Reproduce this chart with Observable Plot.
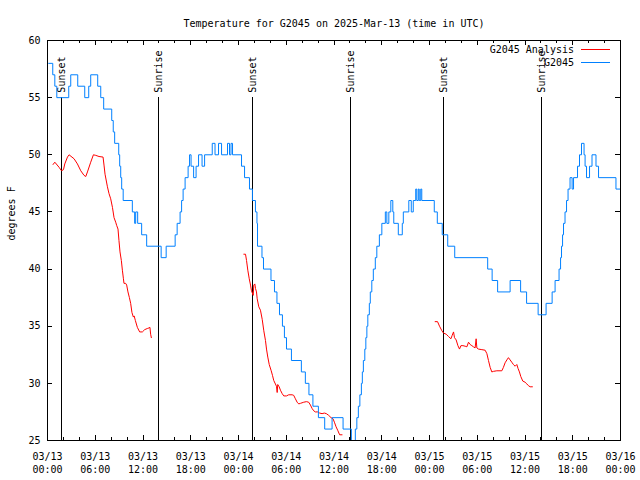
<!DOCTYPE html>
<html>
<head>
<meta charset="utf-8">
<script src="https://cdn.jsdelivr.net/npm/d3@7"></script>
<script src="https://cdn.jsdelivr.net/npm/@observablehq/plot@0.6"></script>
<style>
  html, body { margin: 0; padding: 0; background: #fff; }
  #wrap { position: relative; width: 640px; height: 480px; }
  #legend { position: absolute; left: 0; top: 0; pointer-events: none; }
  text { font-family: "DejaVu Sans Mono", monospace; }
</style>
</head>
<body>
<div id="wrap"></div>
<script>
// ---- data (hours after 2025-03-13 00:00 UTC, degrees F) ----
const titleText = "Temperature for G2045 on 2025-Mar-13 (time in UTC)";
const yLabel = "degrees F";
const seriesNames = ["G2045 Analysis", "G2045"];
const seriesColors = ["#ff0000", "#0080ff"];

const g2045Obs = [
  [0.15,58],[0.66,57],[0.92,56],[1.17,55],[2.67,56],[2.92,57],[3.80,56],[4.68,55],[5.18,56],[5.43,57],
  [6.31,56],[6.69,55],[7.06,54],[8.07,53],[8.26,52],[8.44,51],[8.95,50],[9.07,49],[9.20,48],[9.32,47],
  [9.51,46],[10.66,45],[10.95,44],[11.08,45],[11.33,44],[11.83,43],[12.46,42],[14.28,41],[14.91,42],[16.04,43],
  [16.29,44],[16.66,45],[16.85,46],[17.04,47],[17.29,48],[17.67,49],[17.85,50],[18.04,49],[18.36,48],[18.67,49],
  [18.98,50],[19.42,49],[19.74,50],[20.70,51],[21.05,50],[21.49,51],[21.87,50],[22.62,51],[22.87,50],[23.06,51],
  [23.25,50],[24.38,49],[24.76,48],[25.38,47],[25.75,46],[26.13,45],[26.32,44],[26.39,42],[26.95,41],[27.14,40],
  [28.08,39],[28.52,38],[28.83,37],[29.15,36],[29.52,35],[29.77,34],[30.03,33],[30.65,32],[31.90,31],[32.40,30],
  [32.85,29],[33.35,28],[34.04,27],[34.83,26],[35.76,27],[37.14,26],[38.18,25],[38.68,26],[38.87,27],[39.06,28],
  [39.25,29],[39.44,30],[39.56,31],[39.69,32],[39.87,33],[40.00,34],[40.13,35],[40.25,36],[40.44,37],[40.56,38],
  [40.75,39],[40.94,40],[41.19,41],[41.38,42],[41.70,43],[42.01,44],[42.45,45],[42.64,44],[42.89,45],[43.14,46],
  [43.39,45],[43.51,44],[44.08,43],[44.58,44],[44.71,45],[45.40,46],[45.71,45],[45.96,46],[46.27,47],[46.40,46],
  [46.59,47],[46.71,46],[46.90,47],[47.03,46],[48.60,45],[48.98,44],[49.60,43],[50.29,42],[51.17,41],[55.31,40],
  [55.87,39],[56.56,38],[58.13,39],[59.45,38],[60.20,37],[61.65,36],[62.65,37],[63.41,38],[63.78,39],[64.28,40],
  [64.47,41],[64.59,42],[64.72,43],[64.84,44],[65.03,45],[65.22,46],[65.41,47],[65.66,48],[65.92,47],[66.10,48],
  [66.60,49],[66.85,50],[67.10,51],[67.42,50],[67.55,49],[67.73,48],[68.11,49],[68.42,50],[68.92,49],[69.24,48],
  [71.43,47],[72.0,47]
];

const analysisDay1 = [
  [0.70,49.15],[0.92,49.35],[1.46,48.9],[1.76,48.6],[2.01,48.7],[2.17,49.2],[2.51,49.8],[2.71,50.0],[3.34,49.65],
  [3.76,49.2],[4.18,48.6],[4.59,48.2],[4.81,48.1],[5.02,48.5],[5.43,49.35],[5.77,50.0],[6.06,49.95],[6.47,49.85],
  [6.98,49.8],[7.10,49.1],[7.23,48.3],[7.53,47.2],[7.73,46.6],[7.94,46.15],[8.16,45.4],[8.36,44.5],[8.57,44.1],
  [8.70,43.8],[8.86,43.5],[8.98,42.5],[9.11,41.5],[9.28,40.75],[9.41,39.9],[9.54,39.15],[9.61,38.75],[9.82,38.75],
  [9.95,38.6],[10.11,38.0],[10.29,37.5],[10.45,37.0],[10.61,36.2],[10.79,35.8],[10.89,35.9],[11.04,35.5],
  [11.29,34.9],[11.58,34.5],[11.92,34.5],[12.21,34.7],[12.54,34.8],[12.75,34.85],[12.87,34.9],[12.96,34.3],[13.05,34.0]
];
const analysisDay2 = [
  [24.67,41.3],[24.88,41.3],[25.01,40.75],[25.17,39.9],[25.35,39.15],[25.51,38.6],[25.63,38.1],[25.85,37.7],
  [25.92,38.6],[26.05,38.7],[26.14,38.3],[26.26,38.0],[26.35,37.4],[26.55,36.7],[26.76,36.4],[26.98,35.6],
  [27.18,34.6],[27.39,33.75],[27.52,33.0],[27.68,32.3],[27.86,31.65],[28.11,31.1],[28.27,30.7],[28.43,30.25],
  [28.77,29.75],[28.86,29.2],[28.93,29.9],[29.11,29.7],[29.27,29.4],[29.49,29.1],[29.69,28.9],[30.03,28.9],
  [30.31,29.0],[30.74,29.0],[30.94,28.95],[31.15,28.65],[31.37,28.35],[31.57,28.2],[31.78,28.25],[32.20,28.35],
  [32.53,28.4],[32.82,28.35],[33.04,28.1],[33.25,27.8],[33.45,27.6],[33.66,27.5],[33.95,27.5],[34.20,27.4],
  [34.50,27.35],[34.79,27.4],[35.04,27.35],[35.33,27.2],[35.63,27.0],[35.88,26.9],[36.05,26.6],[36.26,26.2],
  [36.46,25.9],[36.71,25.5],[37.01,25.5]
];
const analysisDay3 = [
  [48.71,35.4],[49.01,35.4],[49.26,35.0],[49.56,34.6],[49.76,34.4],[50.10,34.3],[50.39,34.1],[50.69,33.9],
  [50.85,34.2],[51.02,34.5],[51.14,34.0],[51.35,33.8],[51.57,33.3],[51.77,33.0],[51.95,33.3],[52.20,33.3],
  [52.48,33.25],[52.70,33.2],[52.90,33.6],[53.11,33.4],[53.32,33.3],[53.52,33.2],[53.73,33.1],[53.86,33.9],
  [53.95,33.1],[54.15,33.0],[54.58,32.95],[54.99,32.9],[55.21,32.6],[55.41,32.0],[55.62,31.4],[55.83,31.0],
  [56.04,31.05],[56.46,31.1],[57.09,31.1],[57.29,31.4],[57.50,31.8],[57.72,32.05],[57.92,32.25],[58.13,32.05],
  [58.34,31.85],[58.54,31.65],[58.76,31.5],[58.97,31.65],[59.13,31.3],[59.30,31.0],[59.47,30.6],[59.72,30.2],
  [60.01,30.1],[60.23,29.95],[60.43,29.8],[60.64,29.7],[60.93,29.7]
];

const sunHours = [1.76, 14.0, 25.80, 38.09, 49.76, 62.06];
const sunLabels = ["Sunset", "Sunrise", "Sunset", "Sunrise", "Sunset", "Sunrise"];
const sunLabelTemp = 55;
const yTicks = [25, 30, 35, 40, 45, 50, 55, 60];
const yDomain = [25, 60];

// ---- build ----
const t0 = Date.UTC(2025, 2, 13);
const toDate = h => new Date(t0 + h * 3600e3);
const xDomain = [toDate(0), toDate(72)];
const obs = g2045Obs.map(([h, v]) => ({t: toDate(h), v}));
const ana = [analysisDay1, analysisDay2, analysisDay3].flatMap((seg, i) =>
  seg.map(([h, v]) => ({t: toDate(h), v, seg: i})));
const sun = sunHours.map((h, i) => ({t: toDate(h), label: sunLabels[i]}));
const majorX = d3.utcHour.every(6).range(xDomain[0], new Date(+xDomain[1] + 1));
const minorX = d3.utcHour.every(2).range(xDomain[0], new Date(+xDomain[1] + 1));

const W = 640, H = 480, mL = 47, mR = 20, mT = 40, mB = 40;
const pw = W - mL - mR, ph = H - mT - mB;
const fmt = d3.utcFormat("%m/%d\n%H:%M");

const chart = Plot.plot({
  width: W, height: H,
  marginLeft: mL, marginRight: mR, marginTop: mT, marginBottom: mB,
  style: {fontFamily: "DejaVu Sans Mono, monospace", fontSize: "10px", background: "#fff", color: "#000"},
  x: {type: "utc", domain: xDomain},
  y: {domain: yDomain},
  marks: [
    // sunrise / sunset markers
    Plot.ruleX(sun, {x: "t", y1: yDomain[0], y2: sunLabelTemp, stroke: "#000", strokeWidth: 1, shapeRendering: "crispEdges"}),
    Plot.text(sun, {x: "t", y: () => sunLabelTemp, text: "label", rotate: -90, textAnchor: "start", lineAnchor: "middle", dy: -5, fill: "#000"}),
    // series
    Plot.line(ana, {x: "t", y: "v", z: "seg", stroke: seriesColors[0], strokeWidth: 1}),
    Plot.line(obs, {x: "t", y: "v", stroke: seriesColors[1], strokeWidth: 1, curve: "step-after"}),
    // inward ticks on all sides
    Plot.ruleX(minorX, {x: d => d, insetTop: ph - 3, stroke: "#000", shapeRendering: "crispEdges"}),
    Plot.ruleX(minorX, {x: d => d, insetBottom: ph - 3, stroke: "#000", shapeRendering: "crispEdges"}),
    Plot.ruleX(majorX, {x: d => d, insetTop: ph - 5, stroke: "#000", shapeRendering: "crispEdges"}),
    Plot.ruleX(majorX, {x: d => d, insetBottom: ph - 5, stroke: "#000", shapeRendering: "crispEdges"}),
    Plot.ruleY(yTicks, {y: d => d, insetRight: pw - 5, stroke: "#000", shapeRendering: "crispEdges"}),
    Plot.ruleY(yTicks, {y: d => d, insetLeft: pw - 5, stroke: "#000", shapeRendering: "crispEdges"}),
    Plot.frame({stroke: "#000", strokeWidth: 1, shapeRendering: "crispEdges"}),
    // axis labels
    Plot.axisX({ticks: majorX, tickFormat: fmt, tickSize: 0, tickPadding: 11, lineHeight: 1.25, label: null, fill: "#000"}),
    Plot.axisY({ticks: yTicks, tickSize: 0, tickPadding: 7, label: null, fill: "#000"}),
    Plot.text([yLabel], {frameAnchor: "left", rotate: -90, dx: -36, text: d => d, fill: "#000"}),
    Plot.text([titleText], {frameAnchor: "top", dy: -21, text: d => d, fill: "#000"})
  ]
});
const wrap = document.getElementById("wrap");
wrap.appendChild(chart);

// legend (top-right, inside frame)
const ns = "http://www.w3.org/2000/svg";
const leg = document.createElementNS(ns, "svg");
leg.setAttribute("id", "legend");
leg.setAttribute("width", W);
leg.setAttribute("height", H);
seriesNames.forEach((name, i) => {
  const cy = 49.5 + i * 12.5;
  const t = document.createElementNS(ns, "text");
  t.setAttribute("x", 574);
  t.setAttribute("y", cy);
  t.setAttribute("dy", "0.35em");
  t.setAttribute("text-anchor", "end");
  t.setAttribute("font-size", "10px");
  t.setAttribute("fill", "#000");
  t.textContent = name;
  leg.appendChild(t);
  const l = document.createElementNS(ns, "line");
  l.setAttribute("x1", 581); l.setAttribute("x2", 610);
  l.setAttribute("y1", cy); l.setAttribute("y2", cy);
  l.setAttribute("stroke", seriesColors[i]);
  l.setAttribute("stroke-width", 1);
  l.setAttribute("shape-rendering", "crispEdges");
  leg.appendChild(l);
});
wrap.appendChild(leg);
</script>
</body>
</html>
